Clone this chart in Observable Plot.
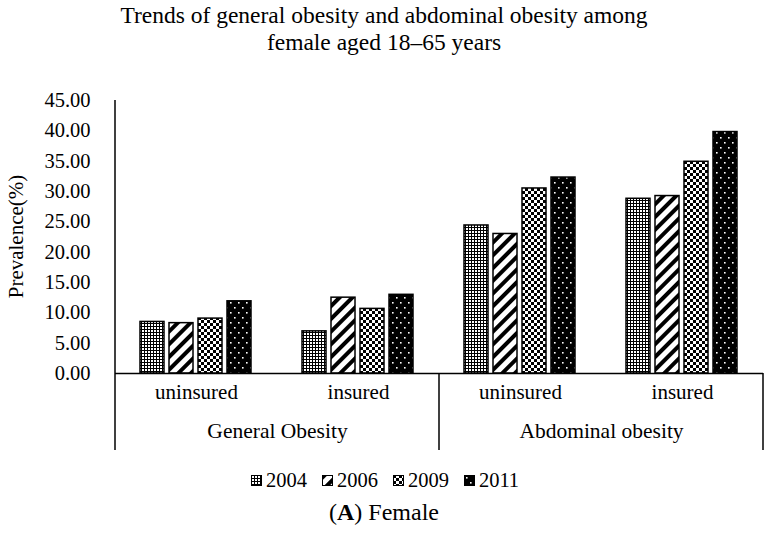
<!DOCTYPE html>
<html>
<head>
<meta charset="utf-8">
<script src="https://cdn.jsdelivr.net/npm/d3@7"></script>
<script src="https://cdn.jsdelivr.net/npm/@observablehq/plot@0.6"></script>
<style>
  body { margin: 0; background: #fff; font-family: "Liberation Serif", "Times New Roman", serif; color: #000; }
  #wrap { width: 768px; position: relative; }
  #title { text-align: center; font-size: 23.5px; line-height: 27px; padding-top: 2px; height: 65px; box-sizing: border-box; }
  #legend { display: flex; justify-content: center; gap: 15px; font-size: 20.5px; height: 40px; align-items: center; padding-left: 2px; }
  #legend .item { display: flex; align-items: center; gap: 4px; }
  #caption { text-align: center; font-size: 24px; line-height: 28px; margin-top: -2px; }
  svg.defs { position: absolute; width: 0; height: 0; }
</style>
</head>
<body>
<svg class="defs" aria-hidden="true">
  <defs>
    <pattern id="p2004" width="3" height="3" patternUnits="userSpaceOnUse">
      <rect width="3" height="3" fill="#fff"/>
      <rect x="0" y="0" width="3" height="1" fill="#000"/>
      <rect x="0" y="0" width="1" height="3" fill="#000"/>
    </pattern>
    <pattern id="p2006" width="9" height="9" patternUnits="userSpaceOnUse" patternTransform="rotate(45)">
      <rect width="9" height="9" fill="#fff"/>
      <rect x="0" y="0" width="4" height="9" fill="#000"/>
    </pattern>
    <pattern id="p2009" width="6" height="6" patternUnits="userSpaceOnUse">
      <rect width="6" height="6" fill="#fff"/>
      <rect x="0" y="0" width="3" height="3" fill="#000"/>
      <rect x="3" y="3" width="3" height="3" fill="#000"/>
    </pattern>
    <pattern id="p2011" width="8" height="10" patternUnits="userSpaceOnUse">
      <rect width="8" height="10" fill="#000"/>
      <rect x="2" y="2" width="1.6" height="1.6" fill="#fff"/>
      <rect x="6" y="7" width="1.6" height="1.6" fill="#fff"/>
    </pattern>
  </defs>
</svg>
<div id="wrap">
  <div id="title">Trends of general obesity and abdominal obesity among<br>female aged 18–65 years</div>
  <div id="chart"></div>
  <div id="legend"></div>
  <div id="caption">(<b>A</b>) Female</div>
</div>
<script>
// ---- data ----
const groups = ["General Obesity", "Abdominal obesity"];
const insurance = ["uninsured", "insured"];
const years = ["2004", "2006", "2009", "2011"];
const generalUninsured = [8.50, 8.30, 9.05, 11.90];
const generalInsured = [6.95, 12.50, 10.65, 12.97];
const abdominalUninsured = [24.40, 23.00, 30.50, 32.30];
const abdominalInsured = [28.80, 29.25, 34.90, 39.80];
const yTicks = [0, 5, 10, 15, 20, 25, 30, 35, 40, 45];

const series = [
  [groups[0], insurance[0], generalUninsured],
  [groups[0], insurance[1], generalInsured],
  [groups[1], insurance[0], abdominalUninsured],
  [groups[1], insurance[1], abdominalInsured]
];
const keys = series.map(([g, i]) => g + "|" + i);
const rows = series.flatMap(([g, i, vals]) =>
  years.map((yr, k) => ({ key: g + "|" + i, group: g, ins: i, year: yr, value: vals[k] })));
const subLabels = series.map(([g, i]) => ({ key: g + "|" + i, text: i }));
const groupLabels = groups.map(g => ({ key: g + "|" + insurance[1], text: g }));

const chart = Plot.plot({
  width: 768,
  height: 395,
  marginTop: 35,
  marginBottom: 87,
  marginLeft: 115,
  marginRight: 5,
  style: { fontFamily: "Liberation Serif, serif", fontSize: "20.5px", color: "#000", background: "transparent" },
  fx: { domain: keys, padding: 0, axis: null },
  x: { domain: years, paddingInner: 0.17, paddingOuter: 0.86, axis: null },
  y: { domain: [0, 45], ticks: yTicks, tickFormat: d => d.toFixed(2), label: null, tickSize: 0, tickPadding: 25 },
  color: { type: "identity" },
  marks: [
    Plot.barY(rows, { fx: "key", x: "year", y: "value", fill: d => `url(#p${d.year})`, stroke: "#000", strokeWidth: 1.5 }),
    Plot.ruleY([0], { stroke: "#000", strokeWidth: 1.5 }),
    Plot.text(subLabels, { fx: "key", text: "text", frameAnchor: "bottom", dy: 25, fontSize: 21 }),
    Plot.text(groupLabels, { fx: "key", text: "text", frameAnchor: "bottom-left", textAnchor: "middle", dy: 64, fontSize: 21.5 })
  ]
});

// y-axis title, separators and axis line drawn from the plot's own scales
const svg = d3.select(chart);
const fxS = chart.scale("fx");
const yS = chart.scale("y");
const y0 = yS.apply(0), yTop = yS.apply(45);
const left = fxS.apply(keys[0]);
const bw = fxS.bandwidth;
const g = svg.append("g").attr("stroke", "#000").attr("stroke-width", 1.5);
g.append("line").attr("x1", left).attr("x2", left).attr("y1", yTop).attr("y2", y0);
[left, fxS.apply(keys[2]), fxS.apply(keys[3]) + bw].forEach(x => {
  g.append("line").attr("x1", x).attr("x2", x).attr("y1", y0).attr("y2", y0 + 77);
});
svg.append("text")
  .attr("transform", `translate(18,${(yTop + y0) / 2}) rotate(-90)`)
  .attr("text-anchor", "middle").attr("dominant-baseline", "middle")
  .attr("font-size", 21).attr("fill", "#000")
  .text("Prevalence(%)");

document.getElementById("chart").appendChild(chart);

// legend
const legend = d3.select("#legend");
years.forEach(yr => {
  const it = legend.append("div").attr("class", "item");
  const s = it.append("svg").attr("width", 11).attr("height", 11);
  s.append("rect").attr("x", 0.5).attr("y", 0.5).attr("width", 10).attr("height", 10)
    .attr("fill", `url(#p${yr})`).attr("stroke", "#000").attr("stroke-width", 1);
  it.append("span").text(yr);
});
</script>
</body>
</html>
